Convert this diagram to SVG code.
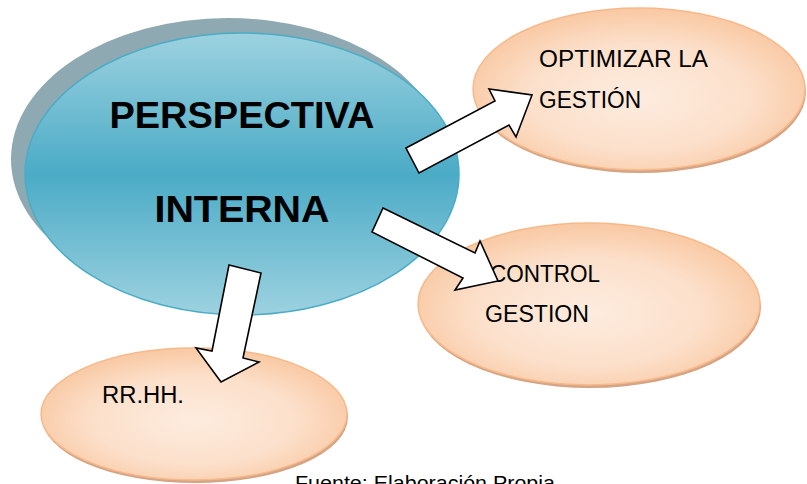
<svg xmlns="http://www.w3.org/2000/svg" width="807" height="484" viewBox="0 0 807 484">
  <defs>
    <linearGradient id="blueGrad" x1="0" y1="0" x2="0" y2="1">
      <stop offset="0" stop-color="#9DD2E0"/>
      <stop offset="0.5" stop-color="#4BABC6"/>
      <stop offset="1" stop-color="#9DD2E0"/>
    </linearGradient>
    <radialGradient id="orangeGrad" cx="0.5" cy="0.55" r="0.6">
      <stop offset="0" stop-color="#FDECDF"/>
      <stop offset="0.55" stop-color="#FCE0CB"/>
      <stop offset="1" stop-color="#F8C399"/>
    </radialGradient>
    <style>
      .shadowBlue { fill: #8EA9B1; }
      .blue { fill: url(#blueGrad); stroke: #4BACC6; stroke-width: 1.5; }
      .shadowOrange { fill: #D4A484; }
      .orange { fill: url(#orangeGrad); stroke: #F7B98A; stroke-width: 1.5; }
      .big { font-family: "Liberation Sans", Arial, sans-serif; font-weight: bold; font-size: 37px; fill: #000; }
      .lbl { font-family: "Liberation Sans", Arial, sans-serif; font-size: 23px; fill: #000; }
      .src { font-family: "Liberation Sans", Arial, sans-serif; font-size: 21px; fill: #000; }
      .arrow { fill: #FFFFFF; stroke: #000; stroke-width: 1.6; stroke-linejoin: miter; }
    </style>
  </defs>

  <g id="node-optimizar">
    <ellipse class="shadowOrange" cx="640" cy="92" rx="166" ry="81"/>
    <ellipse class="orange" cx="639" cy="89" rx="166" ry="81"/>
    <text class="lbl" x="539" y="67" textLength="169" lengthAdjust="spacingAndGlyphs">OPTIMIZAR LA</text>
    <text class="lbl" x="539" y="108" textLength="102" lengthAdjust="spacingAndGlyphs">GESTIÓN</text>
  </g>

  <g id="node-control">
    <ellipse class="shadowOrange" cx="590" cy="307" rx="171" ry="81"/>
    <ellipse class="orange" cx="589" cy="304" rx="171" ry="81"/>
    <text class="lbl" x="490" y="282" textLength="110" lengthAdjust="spacingAndGlyphs">CONTROL</text>
    <text class="lbl" x="485" y="322" textLength="104" lengthAdjust="spacingAndGlyphs">GESTION</text>
  </g>

  <g id="node-rrhh">
    <ellipse class="shadowOrange" cx="195" cy="417" rx="153" ry="66"/>
    <ellipse class="orange" cx="194" cy="414" rx="153" ry="66"/>
    <text class="lbl" x="102" y="403" textLength="82" lengthAdjust="spacingAndGlyphs">RR.HH.</text>
  </g>

  <g id="node-perspectiva">
    <ellipse class="shadowBlue" cx="228" cy="159" rx="217" ry="141"/>
    <ellipse class="blue" cx="242" cy="174" rx="217" ry="141"/>
    <text class="big" x="242" y="128" text-anchor="middle" textLength="265" lengthAdjust="spacingAndGlyphs">PERSPECTIVA</text>
    <text class="big" x="242" y="222" text-anchor="middle" textLength="175" lengthAdjust="spacingAndGlyphs">INTERNA</text>
  </g>

  <g id="connectors">
    <polygon class="arrow" points="406,148 495,101 489,89 532,95 516,137 509,125 419,173"/>
    <polygon class="arrow" points="383,208 475,253 480,241 498,281 455,290 463,278 372,232"/>
    <polygon class="arrow" points="229,265 261,273 243,358 259,362 221,382 196,348 212,351"/>
  </g>

  <text class="src" x="295" y="490" textLength="260" lengthAdjust="spacingAndGlyphs">Fuente: Elaboración Propia</text>
</svg>
